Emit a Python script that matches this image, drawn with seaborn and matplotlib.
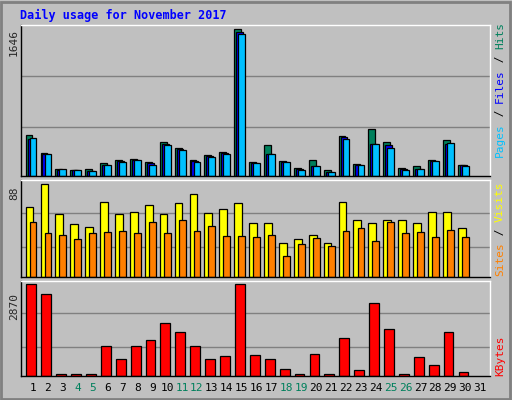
import numpy as np
import pandas as pd
import matplotlib
matplotlib.use("Agg")
import matplotlib.pyplot as plt
import seaborn as sns

# ── data ─────────────────────────────────────────────────────
days = list(range(1, 32))
weekend = {4, 5, 11, 12, 18, 19, 25, 26}

hits = [461, 258, 79, 67, 79, 146, 180, 191, 157, 382, 315, 180, 236, 270, 1646,
        157, 348, 169, 90, 180, 67, 449, 135, 528, 382, 90, 112, 180, 404, 124, 0]
files = [416, 247, 71, 64, 56, 127, 169, 180, 146, 360, 303, 169, 221, 258, 1618,
         146, 247, 157, 79, 116, 49, 434, 124, 360, 348, 79, 79, 169, 360, 120, 0]
pages = [427, 243, 79, 67, 56, 124, 161, 176, 124, 352, 292, 161, 214, 247, 1596,
         146, 247, 157, 67, 116, 45, 416, 124, 360, 315, 67, 79, 169, 371, 112, 0]
visits = [66, 88, 59, 50, 47, 71, 59, 61, 68, 59, 70, 78, 60, 64, 70,
          51, 51, 32, 36, 40, 32, 71, 54, 51, 54, 54, 51, 61, 61, 46, 0]
sites = [52, 41, 40, 36, 41, 42, 43, 41, 52, 41, 54, 43, 48, 39, 39,
         38, 40, 20, 31, 37, 29, 43, 46, 34, 52, 41, 42, 38, 44, 38, 0]
kbytes = [2870, 2555, 63, 63, 63, 953, 545, 953, 1141, 1644, 1393, 953, 545, 639, 2870,
          670, 545, 230, 63, 702, 63, 1204, 199, 2272, 1456, 63, 607, 356, 1393, 136, 0]

BG = "#C0C0C0"
MONO = "DejaVu Sans Mono"
W, H = 512, 400

sns.set_style("white")
plt.rcParams["font.family"] = [MONO]

fig = plt.figure(figsize=(W / 100, H / 100), dpi=100, facecolor=BG)


def px_axes(x0, y0, x1, y1):
    return fig.add_axes([x0 / W, 1 - y1 / H, (x1 - x0) / W, (y1 - y0) / H])


def draw(ax, series, ymax, grids):
    ax.set_facecolor(BG)
    for g in grids:
        ax.axhline(g, color="#808080", lw=1, zorder=0)
    for vals, off, width, color in series:
        d = pd.DataFrame({"x": np.array(days) + off, "y": vals})
        d = d[d["y"] > 0]
        sns.barplot(data=d, x="x", y="y", native_scale=True, width=width,
                    color=color, edgecolor="black", linewidth=0.9,
                    saturation=1, ax=ax, zorder=2)
    ax.set_xlim(0.2, 31.67)
    ax.set_ylim(0, ymax)
    ax.set_xticks([])
    ax.set_yticks([])
    ax.set_xlabel("")
    ax.set_ylabel("")
    for s in ax.spines.values():
        s.set_color("black")
        s.set_linewidth(1)
    ax.spines["top"].set_color("white")
    ax.spines["right"].set_color("white")


ax1 = px_axes(21, 25, 490, 176)
draw(ax1, [(hits, -0.26, 0.46, "#00805C"), (files, -0.13, 0.46, "#0000FF"),
           (pages, 0.01, 0.46, "#00C0FF")], 1694, [551, 1120])
ax2 = px_axes(21, 180, 490, 277)
draw(ax2, [(visits, -0.23, 0.52, "#FFFF00"), (sites, 0.01, 0.46, "#FF8000")],
     91.4, [28.7, 60.2])
ax3 = px_axes(21, 281, 490, 376)
draw(ax3, [(kbytes, -0.11, 0.66, "#FF0000")], 2974, [921, 1958])

# title and axis annotations
fig.text(20 / W, 1 - 15 / H, "Daily usage for November 2017", color="#0000FF",
         fontsize=8.5, fontweight="bold", va="center", family=MONO)
for label, y in [("1646", 42), ("88", 193), ("2870", 306)]:
    fig.text(14 / W, 1 - y / H, label, rotation=90, fontsize=8,
             ha="center", va="center", family=MONO)

for d in days:
    x = 33 + (d - 1) * 14.9
    fig.text(x / W, 1 - 388 / H, str(d), fontsize=8, ha="center", va="center",
             color="#00805C" if d in weekend else "black", family=MONO)

renderer = fig.canvas.get_renderer()


def vlabel(parts, y_bottom):
    # stacked rotated label on right, parts given bottom-to-top
    y = y_bottom
    for text, color in parts:
        t = fig.text(500 / W, 1 - y / H, text, rotation=90, fontsize=8,
                     color=color, ha="center", va="bottom", family=MONO)
        ext = t.get_window_extent(renderer)
        y -= ext.height


vlabel([("Pages", "#00C0FF"), (" / ", "black"), ("Files", "#0000FF"),
        (" / ", "black"), ("Hits", "#00805C")], 157)
vlabel([("Sites", "#FF8000"), (" / ", "black"), ("Visits", "#FFFF00")], 276)
vlabel([("KBytes", "#FF0000")], 376)

# bevelled outer frame
fig.add_artist(plt.Rectangle((1 / W, 1 / H), 1 - 3 / W, 1 - 3 / H,
               transform=fig.transFigure, fill=False, edgecolor="#808080", lw=2))

fig.savefig("out.png", dpi=100, facecolor=BG)
